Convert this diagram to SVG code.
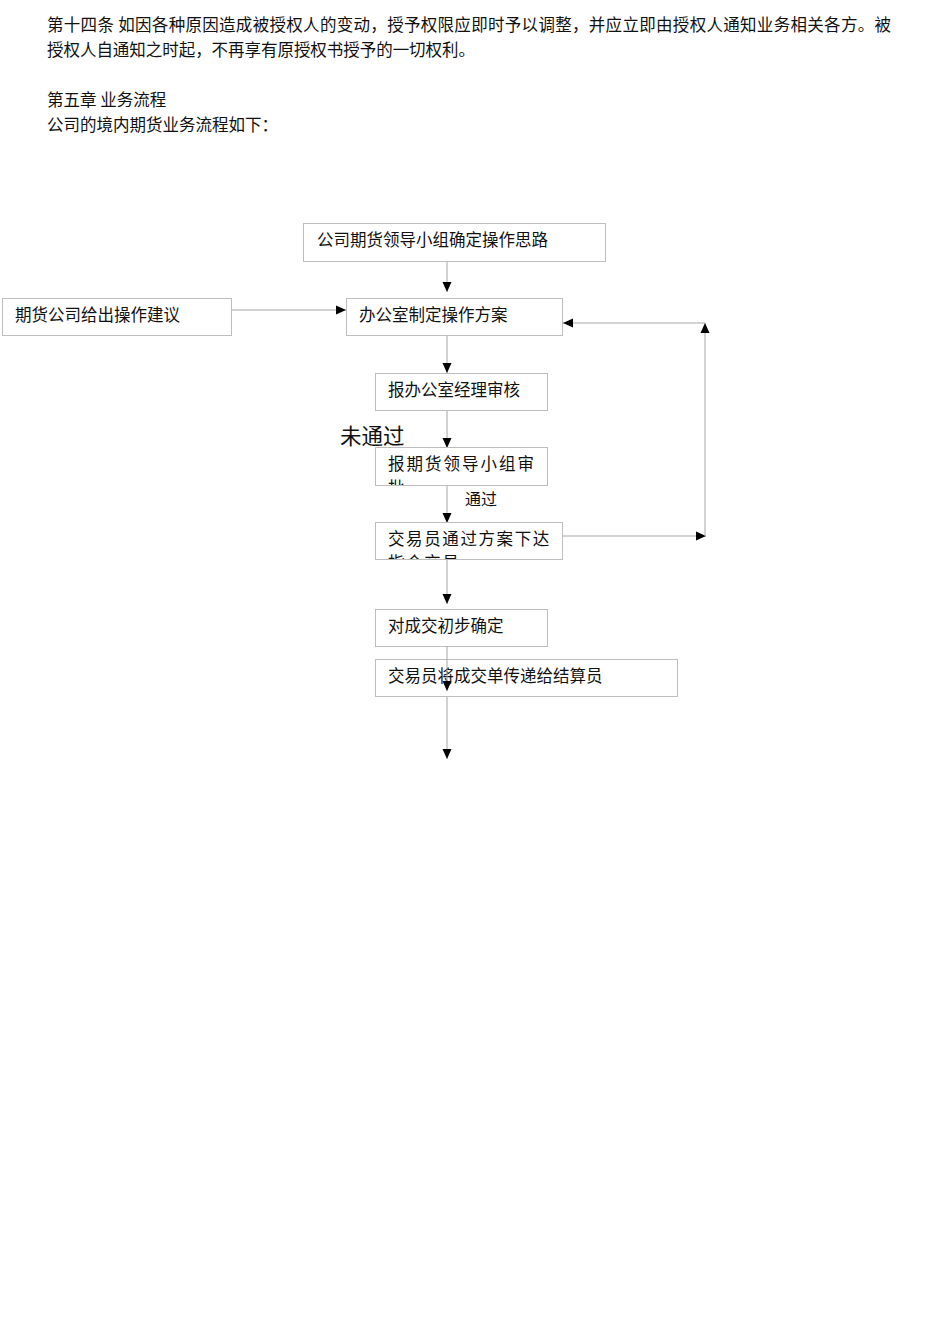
<svg xmlns="http://www.w3.org/2000/svg" width="950" height="1344" viewBox="0 0 950 1344">
<style>
  text { font-family: "Noto Sans CJK SC", sans-serif; fill: #111; }
  .p { font-size: 16.5px; }
  .n { font-size: 16.5px; }
  .box { fill: #fff; stroke: #bdbdbd; stroke-width: 1; }
  .ln { fill: none; stroke: #a6a6a6; stroke-width: 1; }
</style>
<defs>
  <marker id="ah" viewBox="0 0 10 10" refX="10" refY="5" markerWidth="10" markerHeight="10" markerUnits="userSpaceOnUse" orient="auto">
    <path d="M0,0.5 L10,5 L0,9.5 Z" fill="#000"/>
  </marker>
  <clipPath id="c5"><rect x="375" y="447" width="172" height="38"/></clipPath>
  <clipPath id="c6"><rect x="375" y="522" width="187" height="37"/></clipPath>
</defs>
<rect width="950" height="1344" fill="#fff"/>
<g id="paragraph">
  <text class="p" x="47" y="31" textLength="844" lengthAdjust="spacing">第十四条 如因各种原因造成被授权人的变动，授予权限应即时予以调整，并应立即由授权人通知业务相关各方。被</text>
  <text class="p" x="47" y="56" textLength="428" lengthAdjust="spacing">授权人自通知之时起，不再享有原授权书授予的一切权利。</text>
  <text class="p" x="47" y="106">第五章 业务流程</text>
  <text class="p" x="47" y="131">公司的境内期货业务流程如下：</text>
</g>
<g id="connectors">
  <line class="ln" x1="447" y1="261" x2="447" y2="292" marker-end="url(#ah)"/>
  <line class="ln" x1="231" y1="310" x2="346" y2="310" marker-end="url(#ah)"/>
  <line class="ln" x1="447" y1="335" x2="447" y2="373" marker-end="url(#ah)"/>
  <line class="ln" x1="447" y1="410" x2="447" y2="448" marker-end="url(#ah)"/>
  <line class="ln" x1="447" y1="485" x2="447" y2="523" marker-end="url(#ah)"/>
  <line class="ln" x1="562" y1="536" x2="706" y2="536" marker-end="url(#ah)"/>
  <line class="ln" x1="705" y1="536" x2="705" y2="323" marker-end="url(#ah)"/>
  <line class="ln" x1="705" y1="323" x2="563" y2="323" marker-end="url(#ah)"/>
  <line class="ln" x1="447" y1="559" x2="447" y2="604" marker-end="url(#ah)"/>
  <line class="ln" x1="447" y1="696" x2="447" y2="759" marker-end="url(#ah)"/>
</g>
<g id="n1">
  <rect class="box" x="303.5" y="223.5" width="302" height="38"/>
  <text class="n" x="317" y="246">公司期货领导小组确定操作思路</text>
</g>
<g id="n2">
  <rect class="box" x="2.5" y="298.5" width="229" height="37"/>
  <text class="n" x="15" y="321">期货公司给出操作建议</text>
</g>
<g id="n3">
  <rect class="box" x="346.5" y="298.5" width="216" height="37"/>
  <text class="n" x="359" y="321">办公室制定操作方案</text>
</g>
<g id="n4">
  <rect class="box" x="375.5" y="373.5" width="172" height="37"/>
  <text class="n" x="388" y="396">报办公室经理审核</text>
</g>
<g id="n5">
  <rect class="box" x="375.5" y="447.5" width="172" height="38"/>
  <g clip-path="url(#c5)">
    <text class="n" x="388" y="470" letter-spacing="2">报期货领导小组审</text>
    <text class="n" x="388" y="494" letter-spacing="2">批</text>
  </g>
</g>
<g id="n6">
  <rect class="box" x="375.5" y="522.5" width="187" height="37"/>
  <g clip-path="url(#c6)">
    <text class="n" x="388" y="545" letter-spacing="1.6">交易员通过方案下达</text>
    <text class="n" x="388" y="569" letter-spacing="1.6">指令交易</text>
  </g>
</g>
<g id="n7">
  <rect class="box" x="375.5" y="609.5" width="172" height="37"/>
  <text class="n" x="388" y="632">对成交初步确定</text>
</g>
<g id="n8">
  <rect class="box" x="375.5" y="659.5" width="302" height="37"/>
  <text class="n" x="388" y="682">交易员将成交单传递给结算员</text>
</g>
<g id="overlay">
  <line class="ln" x1="447" y1="646" x2="447" y2="691" marker-end="url(#ah)"/>
</g>
<g id="labels">
  <text x="340" y="444" style="font-size:21.5px">未通过</text>
  <text x="465" y="505" style="font-size:16px">通过</text>
</g>
</svg>
